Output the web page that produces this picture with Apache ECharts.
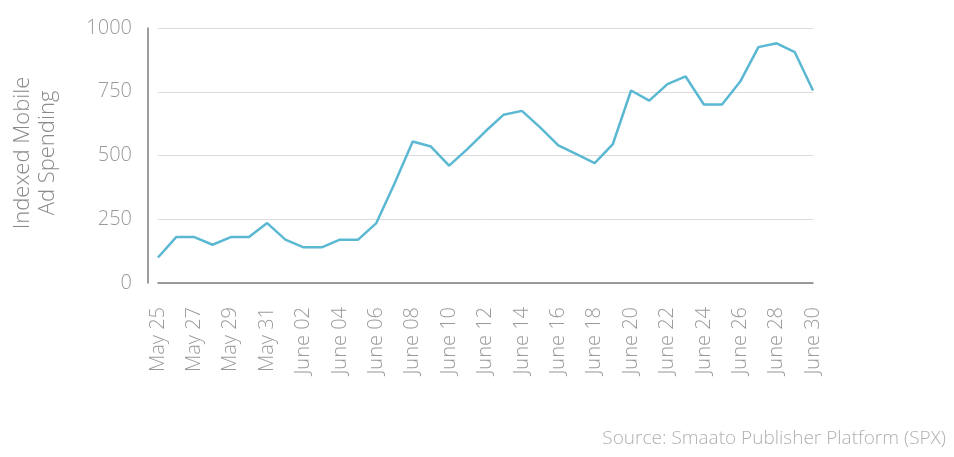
<!DOCTYPE html>
<html>
<head>
<meta charset="utf-8">
<script src="https://cdn.jsdelivr.net/npm/echarts@6/dist/echarts.min.js"></script>
<style>
  html, body { margin: 0; padding: 0; background: #fff; }
  #chart { width: 954px; height: 457px; }
</style>
</head>
<body>
<div id="chart"></div>
<script>
const days = [
  'May 25', 'May 26', 'May 27', 'May 28', 'May 29', 'May 30', 'May 31',
  'June 01', 'June 02', 'June 03', 'June 04', 'June 05', 'June 06', 'June 07',
  'June 08', 'June 09', 'June 10', 'June 11', 'June 12', 'June 13', 'June 14',
  'June 15', 'June 16', 'June 17', 'June 18', 'June 19', 'June 20', 'June 21',
  'June 22', 'June 23', 'June 24', 'June 25', 'June 26', 'June 27', 'June 28',
  'June 29', 'June 30'
]

const adSpending = [
  100, 180, 180, 150, 180, 180, 235,
  170, 140, 140, 170, 170, 235, 390,
  555, 535, 460, 525, 595, 660, 675,
  610, 540, 505, 470, 545, 755, 715,
  780, 810, 700, 700, 790, 925, 940,
  905, 755
]

const yTicks = { min: 0, max: 1000, interval: 250 }

const chart = echarts.init(document.getElementById('chart'))

const fontFamily = '"Open Sans", "Noto Sans", sans-serif'

chart.setOption({
  backgroundColor: '#fff',
  animation: false,
  textStyle: { fontFamily },
  grid: { left: 158, right: 141, top: 28, bottom: 174 },
  graphic: [
    {
      type: 'text',
      x: 35,
      y: 153,
      rotation: Math.PI / 2,
      style: {
        text: 'Indexed Mobile\nAd Spending',
        fill: '#8a8a8a',
        font: '300 22px ' + fontFamily,
        align: 'center',
        verticalAlign: 'middle',
        lineHeight: 25
      }
    },
    {
      type: 'text',
      right: 8,
      top: 429,
      style: {
        text: 'Source: Smaato Publisher Platform (SPX)',
        fill: '#b0b0b0',
        font: '300 19px ' + fontFamily
      }
    }
  ],
  xAxis: {
    type: 'category',
    data: days,
    boundaryGap: false,
    axisLine: { lineStyle: { color: '#7d7d7d', width: 1.5 } },
    axisTick: { show: false },
    axisLabel: {
      interval: 1,
      rotate: 90,
      margin: 24,
      color: '#9a9a9a',
      fontSize: 20,
      fontWeight: 300
    },
    splitLine: { show: false }
  },
  yAxis: {
    type: 'value',
    min: yTicks.min,
    max: yTicks.max,
    interval: yTicks.interval,
    offset: 10,
    axisLine: { show: true, lineStyle: { color: '#7d7d7d', width: 1.5 } },
    axisTick: { show: false },
    axisLabel: {
      margin: 16,
      color: '#9a9a9a',
      fontSize: 20,
      fontWeight: 300,
      formatter: (v) => String(v)
    },
    splitLine: { lineStyle: { color: '#dcdcdc', width: 1 } }
  },
  series: [
    {
      type: 'line',
      data: adSpending,
      symbol: 'none',
      lineStyle: { color: '#5bb8d2', width: 2.5 }
    }
  ]
})
</script>
</body>
</html>
